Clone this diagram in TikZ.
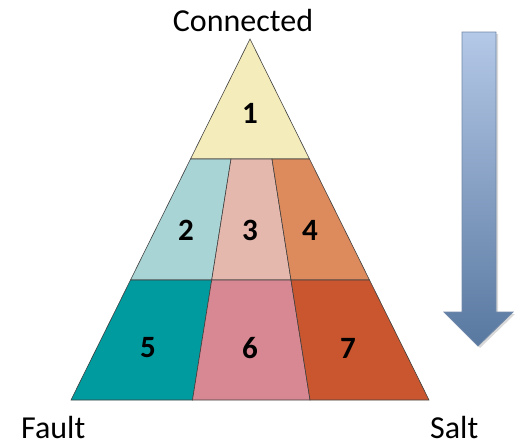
\documentclass[tikz,border=0pt]{standalone}
\usepackage{fontspec}
\setmainfont{Carlito}
\begin{document}
\begin{tikzpicture}[x=1pt,y=-1pt,
  region/.style={draw=black!75, line width=0.6pt, line join=miter},
  num/.style={font=\bfseries\fontsize{31}{31}\selectfont, text=black, inner sep=0pt},
  lbl/.style={font=\fontsize{32}{32}\selectfont, text=black, inner sep=0pt, anchor=base}]
\useasboundingbox (0,0) rectangle (526,447);
\definecolor{c1}{HTML}{F5ECBB}
\definecolor{c2}{HTML}{A9D4D5}
\definecolor{c3}{HTML}{E4B8AD}
\definecolor{c4}{HTML}{DD8A5C}
\definecolor{c5}{HTML}{009B9E}
\definecolor{c6}{HTML}{D88892}
\definecolor{c7}{HTML}{C9562E}
\definecolor{atop}{HTML}{B4C8E7}
\definecolor{abot}{HTML}{5878A0}
\definecolor{aline}{HTML}{6F88A8}
% vertices
\coordinate (A) at (250,39);
\coordinate (L1) at (190.5,159);
\coordinate (R1) at (309.5,159);
\coordinate (L2) at (130.5,280);
\coordinate (R2) at (369.5,280);
\coordinate (BL) at (71,400);
\coordinate (BR) at (429,400);
\coordinate (D1a) at (231,159);
\coordinate (D1b) at (211.7,280);
\coordinate (D1c) at (192.5,400);
\coordinate (D2a) at (272,159);
\coordinate (D2b) at (291,280);
\coordinate (D2c) at (310,400);
% regions
\filldraw[region, fill=c1] (A) -- (R1) -- (L1) -- cycle;
\filldraw[region, fill=c2] (L1) -- (D1a) -- (D1b) -- (L2) -- cycle;
\filldraw[region, fill=c3] (D1a) -- (D2a) -- (D2b) -- (D1b) -- cycle;
\filldraw[region, fill=c4] (D2a) -- (R1) -- (R2) -- (D2b) -- cycle;
\filldraw[region, fill=c5] (L2) -- (D1b) -- (D1c) -- (BL) -- cycle;
\filldraw[region, fill=c6] (D1b) -- (D2b) -- (D2c) -- (D1c) -- cycle;
\filldraw[region, fill=c7] (D2b) -- (R2) -- (BR) -- (D2c) -- cycle;
% numbers
\node[num] (n1) at (250,113) {1};
\node[num] (n2) at (186,230) {2};
\node[num] (n3) at (250,230) {3};
\node[num] (n4) at (310,230) {4};
\node[num] (n5) at (148,348) {5};
\node[num] (n6) at (250,348) {6};
\node[num] (n7) at (348,348) {7};
% labels
\node[lbl] (conn) at (243,31) {Connected};
\node[lbl, anchor=base west] (fault) at (21,438) {Fault};
\node[lbl, anchor=base west] (salt) at (430,438) {Salt};
% arrow
\coordinate (s1) at (462,32);
\coordinate (s2) at (496,32);
\coordinate (s3) at (496,312);
\coordinate (h1) at (513,312);
\coordinate (tip) at (478,346);
\coordinate (h2) at (444,312);
\coordinate (s4) at (462,312);
\fill[black!15] ([shift={(2,2)}]s1) -- ([shift={(2,2)}]s2) -- ([shift={(2,2)}]s3) -- ([shift={(2,2)}]h1) -- ([shift={(2,2)}]tip) -- ([shift={(2,2)}]h2) -- ([shift={(2,2)}]s4) -- cycle;
\shade[top color=atop, bottom color=abot, draw=aline, line width=0.8pt]
  (s1) -- (s2) -- (s3) -- (h1) -- (tip) -- (h2) -- (s4) -- cycle;
\end{tikzpicture}
\end{document}
